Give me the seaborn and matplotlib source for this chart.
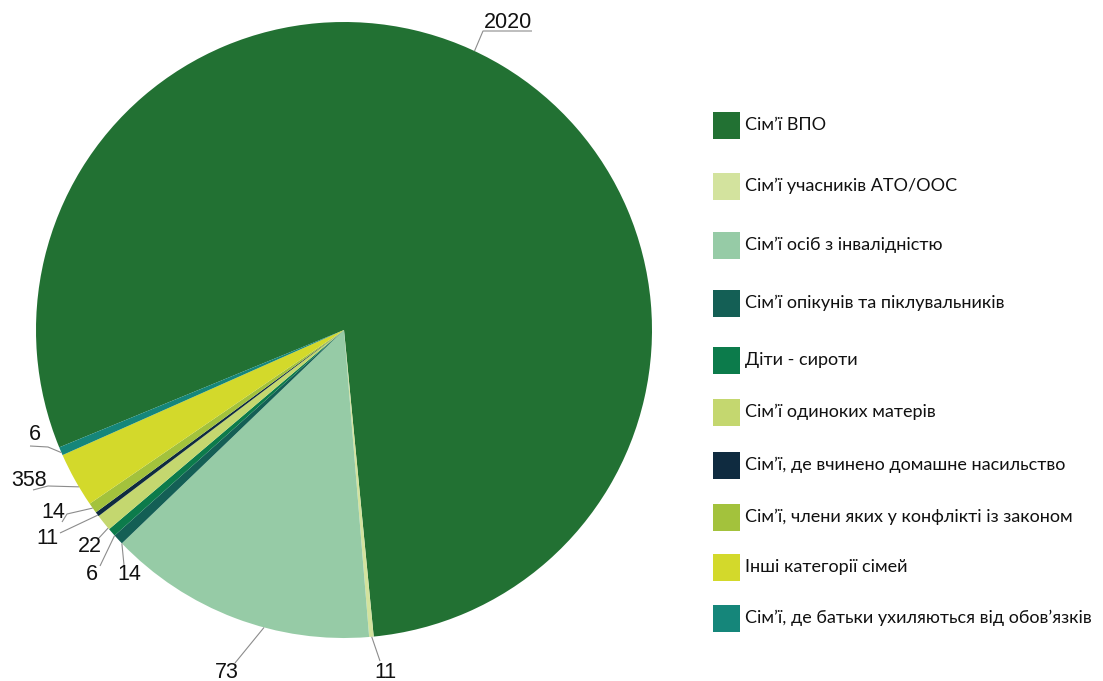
import matplotlib
matplotlib.use("Agg")
import matplotlib.pyplot as plt
import seaborn as sns
import numpy as np
from matplotlib.patches import Rectangle

# ---------------- data ----------------
categories = [
    "Сім’ї ВПО",
    "Сім’ї учасників АТО/ООС",
    "Сім’ї осіб з інвалідністю",
    "Сім’ї опікунів та піклувальників",
    "Діти - сироти",
    "Сім’ї одиноких матерів",
    "Сім’ї, де вчинено домашне насильство",
    "Сім’ї, члени яких у конфлікті із законом",
    "Інші категорії сімей",
    "Сім’ї, де батьки ухиляються від обов’язків",
]
values = [2020, 6, 358, 14, 11, 22, 6, 14, 73, 11]          # slice sizes
value_labels = ["2020", "11", "73", "14", "6", "22", "11", "14", "358", "6"]  # texts shown
colors = ["#227133", "#d3e39e", "#96cba6", "#145f55", "#0c7b4b",
          "#c4d76f", "#0f2b40", "#a3c23c", "#d3d92b", "#15867a"]

# ---------------- layout ----------------
W, H = 1103, 681
CX, CY, R = 344, 330, 308

sns.set_theme(style="white")
plt.rcParams["font.family"] = ["Lato", "DejaVu Sans"]

fig = plt.figure(figsize=(W / 100, H / 100), dpi=100)
ax = fig.add_axes([0, 0, 1, 1])


def px(x, y):
    return ((x - CX) / R, (CY - y) / R)


wedges, _ = ax.pie(values, colors=colors, startangle=202.4, counterclock=False,
                   radius=1, center=(0, 0), wedgeprops=dict(linewidth=0))
ax.set_xlim(-CX / R, (W - CX) / R)
ax.set_ylim((CY - H) / R, CY / R)
ax.set_aspect("equal")
ax.axis("off")

# data labels with leader lines
label_pos = [(508, 22), (385, 672), (227, 672), (129, 574), (92, 574),
             (90, 546), (47, 538), (53, 512), (29, 480), (35, 435)]
leader_text_side = [[(532, 31), (483, 31)], [(380, 661)], [(235, 663)], [(124, 565)],
                    [(100, 566)], [(98, 539)], [(60, 533)], [(62, 522), (67, 514)],
                    [(33, 490), (48, 486)], [(30, 446), (48, 447)]]
leader_target = [(475, 50), (372, 640), (262, 635), (122, 547), (113, 540),
                 (107, 529), (98, 515), (90, 510), (77, 488), (63, 452)]

for w, txt, pos, pts, tgt in zip(wedges, value_labels, label_pos, leader_text_side, leader_target):
    t1, t2 = w.theta1, w.theta2
    mid = 0.5 * (t1 + t2)
    tx, ty = px(*tgt)
    a = np.degrees(np.arctan2(ty, tx))
    a += 360 * np.round((mid - a) / 360)
    a = min(max(a, t1), t2)
    ex, ey = np.cos(np.radians(a)), np.sin(np.radians(a))
    path = [px(*p) for p in pts] + [(ex, ey)]
    xs, ys = zip(*path)
    ax.plot(xs, ys, color="#8c8c8c", lw=0.8, solid_capstyle="butt")
    ax.text(*px(*pos), txt, ha="center", va="center", fontsize=15.5,
            family=["Liberation Sans", "DejaVu Sans"], color="#111111")

# legend
legend_y = [125, 186, 245, 303, 360, 412, 465, 517, 567, 618]
sq = 27
for cat, col, y in zip(categories, colors, legend_y):
    x0, y0 = px(713, y + sq / 2)
    ax.add_patch(Rectangle((x0, y0), sq / R, sq / R, facecolor=col, edgecolor="none"))
    ax.text(*px(745, y), cat, ha="left", va="center", fontsize=13, color="#111111")

fig.savefig("out.png", dpi=100, facecolor="white")
